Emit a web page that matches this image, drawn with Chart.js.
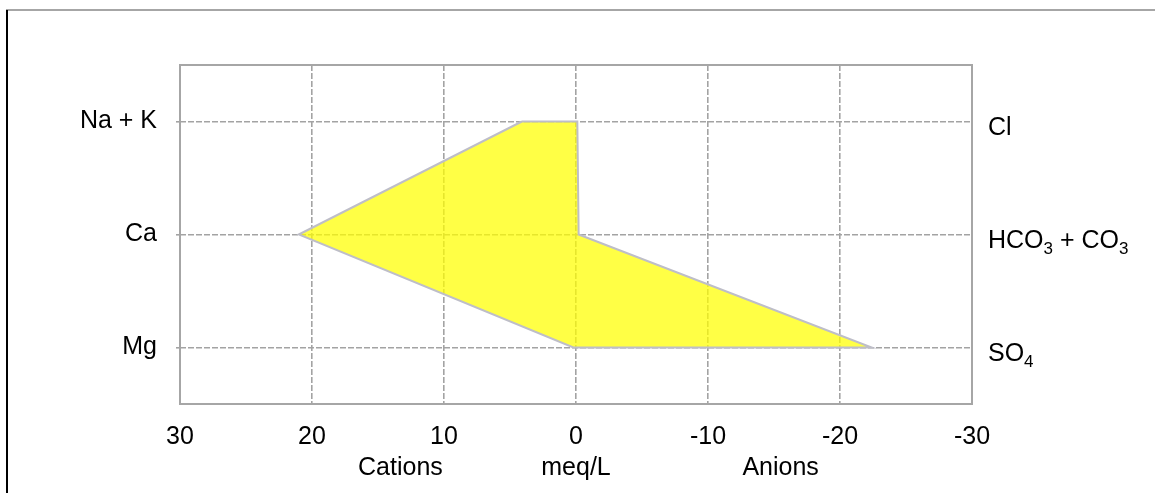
<!DOCTYPE html>
<html>
<head>
<meta charset="utf-8">
<script src="https://cdn.jsdelivr.net/npm/chart.js@4/dist/chart.umd.min.js"></script>
<style>
  body { margin: 0; background: #fff; }
  canvas { display: block; }
</style>
</head>
<body>
<canvas id="stiffChart" width="1155" height="493"></canvas>
<script>
// rows of the stiff diagram (top to bottom)
const rowPositions = [1, 2, 3];
const cationLabels = ["Na + K", "Ca", "Mg"];
const anionLabels = ["Cl", "HCO3 + CO3", "SO4"];
// meq/L
const cationValues = [4.1, 21.0, 0.2];
const anionValues = [0.1, 0.2, 22.4];
const xTicks = [30, 20, 10, 0, -10, -20, -30];
const axisCaptions = ["Cations", "meq/L", "Anions"];
const captionPositions = [13.3, 0, -15.5];

// closed outline: top cation, anions down the right side, cations back up the left
const outline = [];
outline.push({ x: cationValues[0], y: rowPositions[0] });
for (let i = 0; i < anionValues.length; i++) {
  outline.push({ x: -anionValues[i], y: rowPositions[i] });
}
for (let i = cationValues.length - 1; i >= 0; i--) {
  outline.push({ x: cationValues[i], y: rowPositions[i] });
}

const FONT = 'Arial, "Liberation Sans", sans-serif';
const FS = 25;
Chart.defaults.font.family = FONT;
Chart.defaults.font.size = FS;
Chart.defaults.color = "#000";

// draws a label where digits after letters become subscripts
function drawChemLabel(ctx, text, x, y) {
  const parts = text.match(/[A-Za-z]\d+|./g);
  let cx = x;
  parts.forEach(function (p) {
    const m = p.match(/^([A-Za-z])(\d+)$/);
    if (m) {
      ctx.font = FS + "px " + FONT;
      ctx.fillText(m[1], cx, y);
      cx += ctx.measureText(m[1]).width;
      ctx.font = "17px " + FONT;
      ctx.fillText(m[2], cx, y + 8);
      cx += ctx.measureText(m[2]).width;
    } else {
      ctx.font = FS + "px " + FONT;
      ctx.fillText(p, cx, y);
      cx += ctx.measureText(p).width;
    }
  });
}

const stiffPlugin = {
  id: "stiffExtras",
  beforeDraw(chart) {
    const ctx = chart.ctx;
    ctx.save();
    ctx.strokeStyle = "#888";
    ctx.lineWidth = 1.5;
    ctx.beginPath();
    ctx.moveTo(6, 10);
    ctx.lineTo(1155, 10);
    ctx.stroke();
    ctx.strokeStyle = "#000";
    ctx.lineWidth = 2;
    ctx.beginPath();
    ctx.moveTo(7, 10);
    ctx.lineTo(7, 493);
    ctx.stroke();
    ctx.restore();
  },
  beforeDatasetsDraw(chart) {
    const meta = chart.getDatasetMeta(0);
    const ctx = chart.ctx;
    ctx.save();
    ctx.fillStyle = "rgba(255, 255, 0, 0.73)";
    ctx.beginPath();
    meta.data.forEach(function (pt, i) {
      if (i === 0) ctx.moveTo(pt.x, pt.y);
      else ctx.lineTo(pt.x, pt.y);
    });
    ctx.closePath();
    ctx.fill();
    ctx.restore();
  },
  afterDraw(chart) {
    const ctx = chart.ctx;
    const area = chart.chartArea;
    const xs = chart.scales.x;
    const ys = chart.scales.y;
    ctx.save();
    ctx.strokeStyle = "#a6a6a6";
    ctx.lineWidth = 2;
    ctx.strokeRect(area.left, area.top, area.right - area.left, area.bottom - area.top);

    ctx.fillStyle = "#000";
    ctx.textBaseline = "middle";
    ctx.textAlign = "left";
    anionLabels.forEach(function (lbl, i) {
      drawChemLabel(ctx, lbl, area.right + 16, ys.getPixelForValue(rowPositions[i]) + 7);
    });

    ctx.font = FS + "px " + FONT;
    ctx.textAlign = "center";
    axisCaptions.forEach(function (cap, i) {
      ctx.fillText(cap, xs.getPixelForValue(captionPositions[i]), 468);
    });
    ctx.restore();
  }
};

new Chart(document.getElementById("stiffChart"), {
  type: "scatter",
  data: {
    datasets: [
      {
        data: outline,
        showLine: true,
        fill: false,
        borderColor: "rgb(190, 190, 200)",
        borderWidth: 2,
        pointRadius: 0,
        tension: 0,
      },
    ],
  },
  options: {
    responsive: false,
    animation: false,
    layout: { padding: { top: 65, right: 183, bottom: 0, left: 0 } },
    plugins: {
      legend: { display: false },
      tooltip: { enabled: false },
    },
    scales: {
      x: {
        type: "linear",
        min: -30,
        max: 30,
        reverse: true,
        afterFit(scale) { scale.height = 89; },
        afterBuildTicks(scale) {
          scale.ticks = xTicks.map((v) => ({ value: v }));
        },
        border: { display: false, dash: [6, 2] },
        grid: {
          color: "#a3a3a3",
          lineWidth: 1.6,
          drawTicks: false,
        },
        ticks: {
          padding: 18,
          maxRotation: 0,
          callback: (v) => String(v),
        },
      },
      y: {
        type: "linear",
        min: 0.5,
        max: 3.5,
        reverse: true,
        afterFit(scale) { scale.width = 180; },
        afterBuildTicks(scale) {
          scale.ticks = rowPositions.map((v) => ({ value: v }));
        },
        border: { display: false, dash: [6, 2] },
        grid: {
          color: "#a3a3a3",
          lineWidth: 1.6,
          tickLength: 4,
        },
        ticks: {
          padding: 19,
          callback: (v) => cationLabels[rowPositions.indexOf(v)],
        },
      },
    },
  },
  plugins: [stiffPlugin],
});
</script>
</body>
</html>
